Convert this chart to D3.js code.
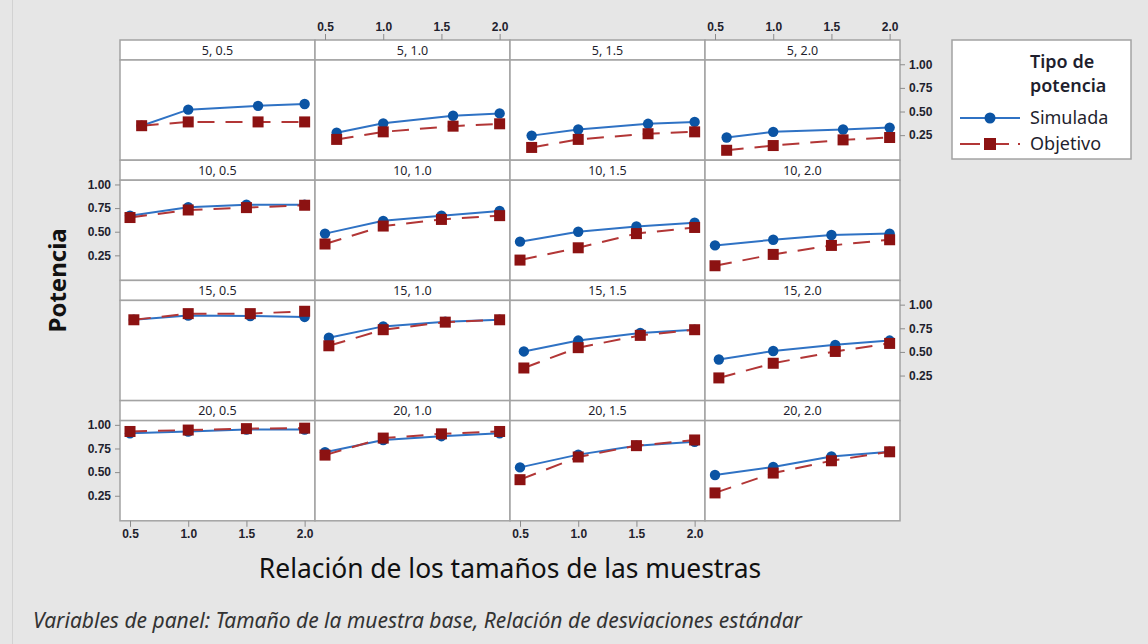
<!DOCTYPE html>
<html>
<head>
<meta charset="utf-8">
<script src="https://cdn.jsdelivr.net/npm/d3@7"></script>
<style>
  body { margin: 0; background: #e6e6e6; }
  svg { display: block; font-family: "Noto Sans", "Open Sans", sans-serif; }
  .tick text { fill: #1f1f2e; font-size: 12px; font-weight: 600; }
  .tick line { stroke: #8c8c8c; }
</style>
</head>
<body>
<div id="chart"></div>
<script>
// ----------------------
// DATA
// ----------------------
const baseSizes = [5, 10, 15, 20];
const sdRatios = ["0.5", "1.0", "1.5", "2.0"];
const xTicks = [0.5, 1.0, 1.5, 2.0];
const yTicks = [0.25, 0.50, 0.75, 1.00];

// actual sample-size ratios used for each base size (rows)
const ratioValues = [
  [0.6, 1.0, 1.6, 2.0],
  [0.5, 1.0, 1.5, 2.0],
  [0.533, 1.0, 1.533, 2.0],
  [0.5, 1.0, 1.5, 2.0]
];

// rows = base size, columns = sd ratio, 4 points each
const simulada = [
  [[0.35, 0.52, 0.56, 0.58], [0.275, 0.375, 0.455, 0.48], [0.245, 0.31, 0.37, 0.39], [0.225, 0.285, 0.31, 0.33]],
  [[0.67, 0.76, 0.785, 0.785], [0.48, 0.615, 0.67, 0.72], [0.395, 0.50, 0.555, 0.595], [0.355, 0.415, 0.465, 0.48]],
  [[0.84, 0.885, 0.88, 0.87], [0.65, 0.77, 0.82, 0.84], [0.505, 0.62, 0.70, 0.735], [0.42, 0.51, 0.575, 0.62]],
  [[0.91, 0.93, 0.95, 0.95], [0.71, 0.84, 0.88, 0.91], [0.55, 0.685, 0.78, 0.82], [0.47, 0.555, 0.665, 0.715]]
];
const objetivo = [
  [[0.35, 0.39, 0.39, 0.39], [0.205, 0.285, 0.345, 0.37], [0.12, 0.205, 0.265, 0.285], [0.09, 0.14, 0.20, 0.225]],
  [[0.65, 0.73, 0.755, 0.78], [0.37, 0.56, 0.63, 0.67], [0.20, 0.33, 0.48, 0.545], [0.14, 0.26, 0.355, 0.415]],
  [[0.84, 0.905, 0.905, 0.93], [0.565, 0.735, 0.815, 0.84], [0.33, 0.545, 0.675, 0.735], [0.225, 0.38, 0.505, 0.59]],
  [[0.93, 0.945, 0.96, 0.965], [0.68, 0.86, 0.905, 0.93], [0.42, 0.66, 0.78, 0.84], [0.28, 0.49, 0.62, 0.715]]
];

const seriesNames = ["Simulada", "Objetivo"];

// ----------------------
// LAYOUT
// ----------------------
const width = 1148, height = 644;
const gridLeft = 120, gridTop = 40;
const colW = 195, rowH = 120.2, stripH = 20;
const plotH = rowH - stripH;

const blueMark = "#0b54a4", blueLine = "#2f72c4";
const redMark = "#8c1212", redLine = "#b23636";
const frame = "#a3a3a3";

const svg = d3.select("#chart")
  .append("svg")
  .attr("width", width)
  .attr("height", height);

svg.append("rect")
  .attr("width", width).attr("height", height)
  .attr("fill", "#e6e6e6");
svg.append("line")
  .attr("x1", 12.5).attr("x2", 12.5).attr("y1", 0).attr("y2", height)
  .attr("stroke", "#d2d2d2");

const x = d3.scaleLinear().domain([0.414, 2.089]).range([0, colW]);
const y = d3.scaleLinear().domain([-0.015, 1.045]).range([plotH, 0]);

const line = d3.line()
  .x(d => x(d[0]))
  .y(d => y(d[1]));

baseSizes.forEach((n, r) => {
  sdRatios.forEach((sd, c) => {
    const g = svg.append("g")
      .attr("transform", `translate(${gridLeft + c * colW},${gridTop + r * rowH})`);

    // strip
    g.append("rect")
      .attr("width", colW).attr("height", stripH)
      .attr("fill", "white").attr("stroke", frame).attr("stroke-width", 1.5);
    g.append("text")
      .attr("x", colW / 2).attr("y", stripH / 2 + 4.5)
      .attr("text-anchor", "middle")
      .attr("font-size", "12.5px")
      .attr("fill", "#1f1f2e")
      .text(`${n}, ${sd}`);

    const p = g.append("g").attr("transform", `translate(0,${stripH})`);
    p.append("rect")
      .attr("width", colW).attr("height", plotH)
      .attr("fill", "white").attr("stroke", frame).attr("stroke-width", 1.5);

    const sim = ratioValues[r].map((v, i) => [v, simulada[r][c][i]]);
    const obj = ratioValues[r].map((v, i) => [v, objetivo[r][c][i]]);

    p.append("path").datum(sim)
      .attr("d", line).attr("fill", "none")
      .attr("stroke", blueLine).attr("stroke-width", 2);
    p.append("path").datum(obj)
      .attr("d", line).attr("fill", "none")
      .attr("stroke", redLine).attr("stroke-width", 2)
      .attr("stroke-dasharray", "17,11");

    p.selectAll(".sim").data(sim).enter()
      .append("circle")
      .attr("cx", d => x(d[0])).attr("cy", d => y(d[1]))
      .attr("r", 5.2).attr("fill", blueMark);
    p.selectAll(".obj").data(obj).enter()
      .append("rect")
      .attr("x", d => x(d[0]) - 5.5).attr("y", d => y(d[1]) - 5.5)
      .attr("width", 11).attr("height", 11)
      .attr("fill", redMark);

    // alternating axes like the original
    if (r === 0 && c % 2 === 1) {
      g.append("g")
        .call(d3.axisTop(x).tickValues(xTicks).tickFormat(d3.format(".1f")).tickSize(6).tickPadding(3))
        .call(a => a.select(".domain").remove());
    }
    if (r === 3 && c % 2 === 0) {
      g.append("g")
        .attr("transform", `translate(0,${rowH})`)
        .call(d3.axisBottom(x).tickValues(xTicks).tickFormat(d3.format(".1f")).tickSize(6).tickPadding(3))
        .call(a => a.select(".domain").remove());
    }
    if (c === 0 && r % 2 === 1) {
      p.append("g")
        .call(d3.axisLeft(y).tickValues(yTicks).tickFormat(d3.format(".2f")).tickSize(5).tickPadding(4))
        .call(a => a.select(".domain").remove());
    }
    if (c === 3 && r % 2 === 0) {
      p.append("g")
        .attr("transform", `translate(${colW},0)`)
        .call(d3.axisRight(y).tickValues(yTicks).tickFormat(d3.format(".2f")).tickSize(5).tickPadding(4))
        .call(a => a.select(".domain").remove());
    }
  });
});

// axis titles
svg.append("text")
  .attr("transform", `translate(66,${gridTop + 2 * rowH}) rotate(-90)`)
  .attr("text-anchor", "middle")
  .attr("font-size", "24px")
  .attr("font-weight", "bold")
  .attr("fill", "#111")
  .text("Potencia");

svg.append("text")
  .attr("x", gridLeft + 2 * colW).attr("y", 578)
  .attr("text-anchor", "middle")
  .attr("font-size", "26.4px")
  .attr("fill", "#111")
  .text("Relación de los tamaños de las muestras");

svg.append("text")
  .attr("x", 33).attr("y", 628)
  .attr("font-size", "21px")
  .attr("font-style", "italic")
  .attr("fill", "#333")
  .text("Variables de panel: Tamaño de la muestra base, Relación de desviaciones estándar");

// legend
const leg = svg.append("g").attr("transform", "translate(952,40)");
leg.append("rect")
  .attr("width", 179).attr("height", 119)
  .attr("fill", "white").attr("stroke", frame).attr("stroke-width", 1.5);
leg.append("text")
  .attr("x", 78).attr("y", 28)
  .attr("font-size", "18px").attr("font-weight", "600").attr("fill", "#1f1f2e")
  .text("Tipo de");
leg.append("text")
  .attr("x", 78).attr("y", 52)
  .attr("font-size", "18px").attr("font-weight", "600").attr("fill", "#1f1f2e")
  .text("potencia");

seriesNames.forEach((name, i) => {
  const ly = 78 + i * 26;
  leg.append("line")
    .attr("x1", 8).attr("x2", 68).attr("y1", ly).attr("y2", ly)
    .attr("stroke", i === 0 ? blueLine : redLine).attr("stroke-width", 2)
    .attr("stroke-dasharray", i === 0 ? null : "20,9");
  if (i === 0) {
    leg.append("circle").attr("cx", 38).attr("cy", ly).attr("r", 5.5).attr("fill", blueMark);
  } else {
    leg.append("rect").attr("x", 32).attr("y", ly - 6).attr("width", 12).attr("height", 12).attr("fill", redMark);
  }
  leg.append("text")
    .attr("x", 78).attr("y", ly + 6)
    .attr("font-size", "18px").attr("fill", "#1f1f2e")
    .text(name);
});
</script>
</body>
</html>
